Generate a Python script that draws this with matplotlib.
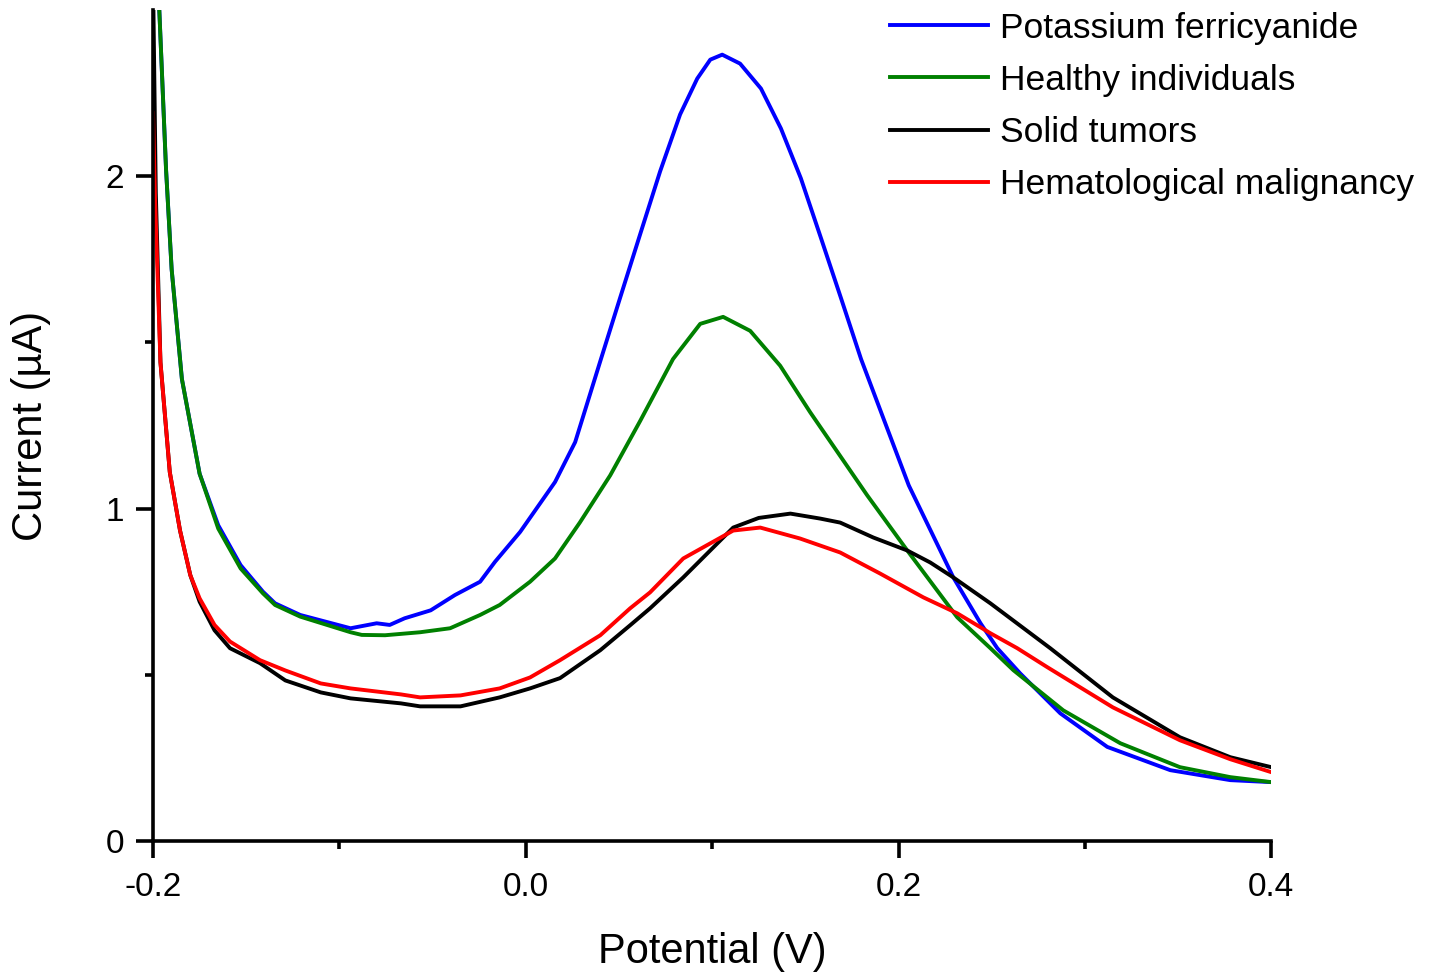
import matplotlib.pyplot as plt
from matplotlib import font_manager

plt.rcParams['font.family'] = ['Liberation Sans', 'DejaVu Sans']

# tick labels in the reference use a narrow face
try:
    font_manager.findfont('Liberation Sans Narrow', fallback_to_default=False)
    tick_family = 'Liberation Sans Narrow'
except Exception:
    tick_family = 'Liberation Sans'

# values
pot_x = [-0.197, -0.193, -0.190, -0.1845, -0.175, -0.165, -0.153, -0.141, -0.1345,
         -0.121, -0.094, -0.080, -0.073, -0.065, -0.051, -0.038, -0.0245, -0.0165,
         -0.003, 0.0157, 0.0265, 0.040, 0.0506, 0.0614, 0.0721, 0.0828, 0.092,
         0.099, 0.1054, 0.115, 0.1262, 0.1369, 0.1476, 0.1584, 0.1691, 0.1799,
         0.192, 0.2055, 0.2294, 0.244, 0.253, 0.2653, 0.2868, 0.312, 0.3458,
         0.378, 0.4]
pot_y = [2.55, 2.02, 1.72, 1.39, 1.105, 0.95, 0.83, 0.75, 0.715,
         0.68, 0.64, 0.655, 0.65, 0.67, 0.694, 0.74, 0.78, 0.84,
         0.93, 1.08, 1.20, 1.444, 1.634, 1.826, 2.015, 2.186, 2.294,
         2.351, 2.366, 2.339, 2.264, 2.144, 1.994, 1.814, 1.634, 1.45,
         1.27, 1.07, 0.793, 0.655, 0.58, 0.504, 0.384, 0.283, 0.213,
         0.183, 0.177]

healthy_x = [-0.197, -0.193, -0.190, -0.1845, -0.175, -0.165, -0.153, -0.141, -0.1345,
             -0.121, -0.094, -0.088, -0.0755, -0.0567, -0.0406, -0.0245, -0.014,
             0.0023, 0.0157, 0.029, 0.0453, 0.0614, 0.079, 0.0936, 0.1059, 0.1204,
             0.1365, 0.1526, 0.1832, 0.2047, 0.2315, 0.2493, 0.2616, 0.2884, 0.319,
             0.351, 0.378, 0.4]
healthy_y = [2.55, 2.02, 1.72, 1.39, 1.105, 0.94, 0.82, 0.745, 0.71,
             0.675, 0.628, 0.62, 0.619, 0.628, 0.64, 0.68, 0.71,
             0.78, 0.85, 0.958, 1.10, 1.264, 1.45, 1.556, 1.577, 1.535,
             1.43, 1.29, 1.04, 0.874, 0.673, 0.58, 0.514, 0.393, 0.294,
             0.222, 0.192, 0.177]

solid_x = [-0.2, -0.1985, -0.196, -0.191, -0.1855, -0.180, -0.175, -0.167, -0.1587,
           -0.1426, -0.129, -0.110, -0.094, -0.067, -0.0567, -0.035, -0.014, 0.0023,
           0.0184, 0.040, 0.056, 0.0667, 0.0845, 0.1113, 0.125, 0.142, 0.158, 0.1687,
           0.1865, 0.2047, 0.217, 0.2294, 0.2493, 0.2814, 0.315, 0.351, 0.378, 0.4]
solid_y = [2.6, 1.95, 1.44, 1.11, 0.934, 0.80, 0.72, 0.634, 0.58,
           0.535, 0.483, 0.447, 0.429, 0.414, 0.405, 0.405, 0.432, 0.459,
           0.49, 0.574, 0.649, 0.70, 0.793, 0.943, 0.972, 0.985, 0.97, 0.958,
           0.913, 0.874, 0.838, 0.793, 0.715, 0.58, 0.432, 0.312, 0.252, 0.222]

hema_x = [-0.2, -0.1989, -0.196, -0.191, -0.1855, -0.180, -0.175, -0.167, -0.1587,
          -0.1426, -0.129, -0.110, -0.094, -0.067, -0.0567, -0.035, -0.014, 0.0023,
          0.0184, 0.040, 0.056, 0.0667, 0.0845, 0.1113, 0.1258, 0.1472, 0.1687,
          0.190, 0.2133, 0.2315, 0.2493, 0.2637, 0.2798, 0.315, 0.351, 0.378, 0.4]
hema_y = [2.19, 1.93, 1.44, 1.11, 0.934, 0.80, 0.73, 0.65, 0.60,
          0.544, 0.513, 0.474, 0.459, 0.441, 0.432, 0.438, 0.459, 0.492,
          0.544, 0.619, 0.70, 0.748, 0.85, 0.934, 0.943, 0.91, 0.868,
          0.805, 0.733, 0.685, 0.625, 0.58, 0.523, 0.402, 0.303, 0.246, 0.207]

series = [
    (pot_x, pot_y, '#0000ff', 'Potassium ferricyanide'),
    (healthy_x, healthy_y, '#008000', 'Healthy individuals'),
    (solid_x, solid_y, '#000000', 'Solid tumors'),
    (hema_x, hema_y, '#ff0000', 'Hematological malignancy'),
]

fig = plt.figure(figsize=(14.3, 9.74), dpi=100)
ax = fig.add_axes([0.107, 0.1366, 0.782, 0.853])

for xs, ys, col, name in series:
    ax.plot(xs, ys, color=col, lw=2.8, label=name)

ax.set_xlim(-0.2, 0.4)
ax.set_ylim(0, 2.5)
ax.set_xticks([-0.2, 0.0, 0.2, 0.4])
ax.set_xticklabels(['-0.2', '0.0', '0.2', '0.4'])
ax.set_xticks([-0.1, 0.1, 0.3], minor=True)
ax.set_yticks([0, 1, 2])
ax.set_yticks([0.5, 1.5], minor=True)

for side in ['top', 'right']:
    ax.spines[side].set_visible(False)
for side in ['left', 'bottom']:
    ax.spines[side].set_linewidth(2.6)

ax.tick_params(which='major', direction='out', length=12, width=2.6,
               labelsize=24)
ax.tick_params(which='minor', direction='out', length=6, width=2.6)
ax.tick_params(axis='x', which='major', pad=10)
ax.tick_params(axis='y', which='major', pad=9)
for lab in ax.get_xticklabels() + ax.get_yticklabels():
    lab.set_family(tick_family)

ax.set_xlabel('Potential (V)', fontsize=30, labelpad=21)
ax.set_ylabel('Current (µA)', fontsize=30, labelpad=39)

ax.legend(loc='upper left', bbox_to_anchor=(0.6224, 0.988),
          bbox_transform=fig.transFigure, frameon=False, borderpad=0,
          borderaxespad=0, fontsize=25.5, handlelength=2.77,
          handletextpad=0.34, labelspacing=0.54)

fig.savefig('out.png', dpi=100)
